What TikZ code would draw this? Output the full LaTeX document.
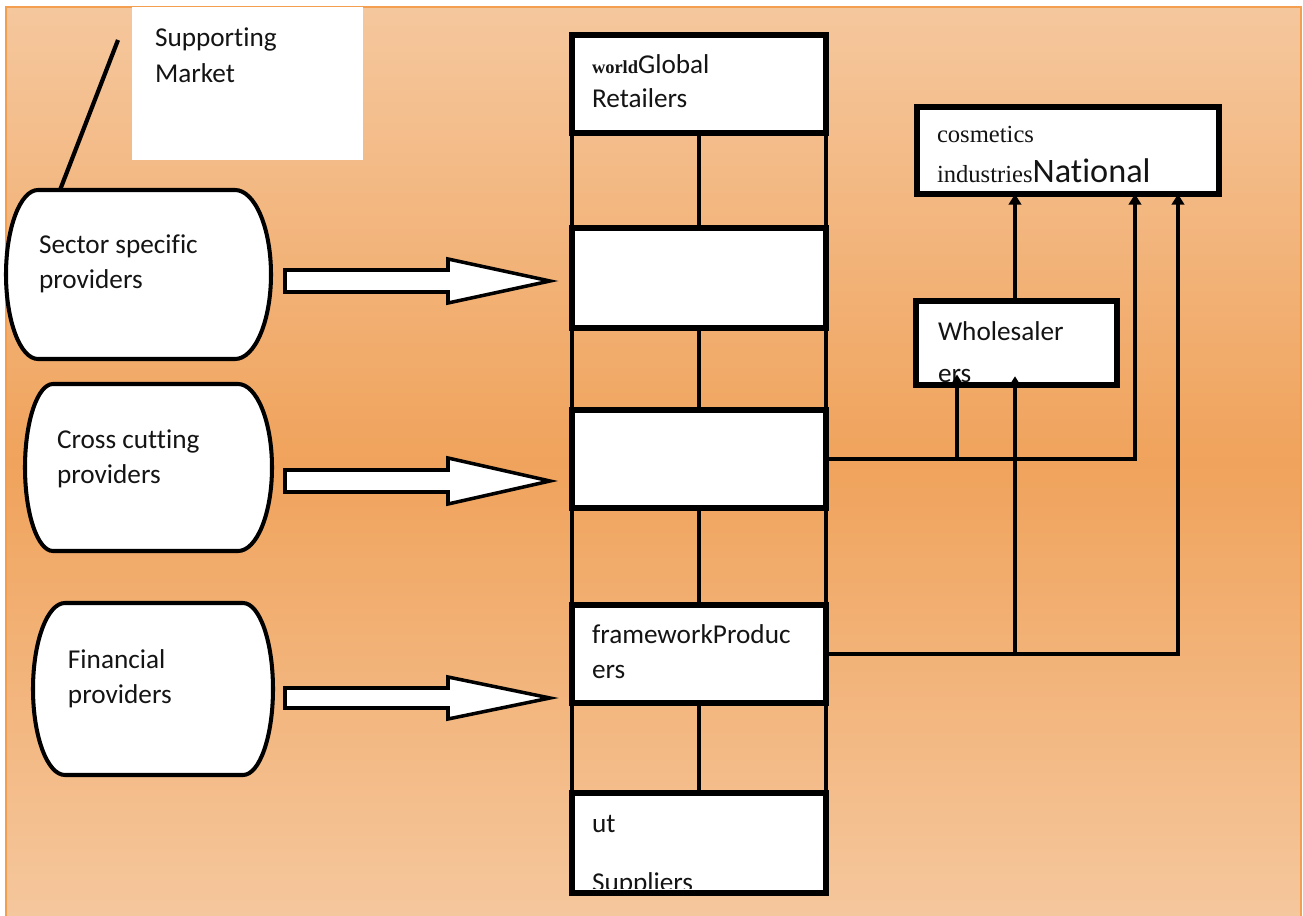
\documentclass[tikz,border=0pt]{standalone}
\usepackage{fontspec}
\setmainfont{Carlito}[Ligatures=NoCommon]
\newfontfamily\serifx{Liberation Serif}
\usetikzlibrary{arrows.meta}
\definecolor{bgtop}{RGB}{245,199,157}
\definecolor{bgmid}{RGB}{240,163,92}
\definecolor{bgedge}{RGB}{244,158,80}
\definecolor{ink}{RGB}{20,20,20}
% xl xr top bot aleft aright : side-bulging provider outline
\newcommand\provpath[6]{({#1+#5},#3) -- ({#2-#6},#3)
 .. controls ({#2-0.448*#6},#3) and (#2,{#3+0.224*(#4-#3)}) .. (#2,{0.5*(#3+#4)})
 .. controls (#2,{#4-0.224*(#4-#3)}) and ({#2-0.448*#6},#4) .. ({#2-#6},#4)
 -- ({#1+#5},#4)
 .. controls ({#1+0.448*#5},#4) and (#1,{#4-0.224*(#4-#3)}) .. (#1,{0.5*(#3+#4)})
 .. controls (#1,{#3+0.224*(#4-#3)}) and ({#1+0.448*#5},#3) .. cycle}
\begin{document}
\begin{tikzpicture}[x=0.02cm,y=-0.02cm,
  every node/.style={outer sep=0pt,inner sep=0pt},
  txt/.style={anchor=base west,font=\fontsize{15.5}{19}\selectfont,text=ink},
  colbox/.style={draw=black,fill=white,line width=3.6pt,minimum width=5.08cm},
  provline/.style={draw=black,fill=white,line width=2.3pt},
  conn/.style={line width=2.4pt,draw=black},
  arr/.style={conn,-{Triangle[length=6pt,width=7pt]}},
  blockarrow/.style={draw=black,fill=white,line width=2pt,line join=miter}]

\useasboundingbox (0,0) rectangle (1303,916);
\fill[white] (0,0) rectangle (1303,916);
\shade[top color=bgtop,bottom color=bgtop,middle color=bgmid] (6,7) rectangle (1301,918);
\draw[bgedge,line width=0.8pt] (6,918) -- (6,7) -- (1301,7) -- (1301,918);

% supporting market
\node[fill=white,minimum width=4.62cm,minimum height=3.06cm] (sm) at (247.5,83.5) {};
\node[txt] (smt1) at (155,47) {Supporting};
\node[txt] (smt2) at (155,82) {Market};

% providers
\draw[provline] \provpath{6}{271}{190}{359}{32}{36};
\draw[provline] \provpath{25}{272}{384}{551}{28}{34};
\draw[provline] \provpath{33}{273}{603}{775}{32}{30};
\node[minimum width=5.3cm,minimum height=3.38cm] (sec) at (138.5,274.5) {};
\node[minimum width=4.94cm,minimum height=3.34cm] (cro) at (148.5,467.5) {};
\node[minimum width=4.8cm,minimum height=3.44cm] (fin) at (153,689) {};
\node[txt] (sect1) at (39,253) {Sector specific};
\node[txt] (sect2) at (39,288) {providers};
\node[txt] (crot1) at (57,448) {Cross cutting};
\node[txt] (crot2) at (57,483) {providers};
\node[txt] (fint1) at (68,668) {Financial};
\node[txt] (fint2) at (68,703) {providers};

\coordinate (lt) at (118,40);
\draw[conn] (lt) -- ([xshift=-1.57cm]sec.north);

% block arrows
\draw[blockarrow] (285,270) -- (448,270) -- (448,259) -- (550,281) -- (448,303) -- (448,292) -- (285,292) -- cycle;
\draw[blockarrow] (285,470) -- (448,470) -- (448,458) -- (550,481) -- (448,504) -- (448,492) -- (285,492) -- cycle;
\draw[blockarrow] (285,688) -- (448,688) -- (448,677) -- (550,698) -- (448,719) -- (448,708) -- (285,708) -- cycle;

% central column
\node[colbox,minimum height=1.96cm] (b1) at (699,84) {};
\node[colbox,minimum height=2.00cm] (b2) at (699,278) {};
\node[colbox,minimum height=1.96cm] (b3) at (699,459) {};
\node[colbox,minimum height=1.96cm] (b4) at (699,654) {};
\node[colbox,minimum height=2.00cm] (b5) at (699,843) {};
\foreach \a/\b in {b1/b2,b2/b3,b3/b4,b4/b5}{
  \draw[conn] (\a.south west) -- (\b.north west);
  \draw[conn] (\a.south) -- (\b.north);
  \draw[conn] (\a.south east) -- (\b.north east);
}
\node[txt] (b1t1) at (592,73) {{\serifx\bfseries\fontsize{10.5}{12}\selectfont world}Global};
\node[txt] (b1t2) at (592,107) {Retailers};
\node[txt] (b4t1) at (592,643) {frameworkProduc};
\node[txt] (b4t2) at (592,678) {ers};
\node[txt] (b5t1) at (592,832) {ut};
\begin{scope}
  \clip (576,797) rectangle (822,888);
  \node[txt] (b5t2) at (592,891) {Suppliers};
\end{scope}

% right side
\node[draw=black,fill=white,line width=3.9pt,minimum width=6.04cm,minimum height=1.74cm] (nat) at (1068,150.5) {};
\node[txt,font=\serifx\fontsize{14}{17}\selectfont] (natt1) at (937,142) {cosmetics};
\node[txt] (natt2) at (937,182) {{\serifx\fontsize{14}{17}\selectfont industries}{\fontsize{19.5}{23}\selectfont National}};

\node[draw=black,fill=white,line width=3.6pt,minimum width=4.02cm,minimum height=1.68cm] (who) at (1016.5,343) {};
\node[txt] (whot1) at (938,340) {Wholesaler};
\begin{scope}
  \clip (920,304) rectangle (1113,381);
  \node[txt] (whot2) at (938,382) {ers};
\end{scope}

\coordinate (j1) at (957,459);
\coordinate (k1) at (1135,459);
\coordinate (j2) at (1015,656);
\coordinate (k2) at (1178,656);
\draw[arr] (b3.east) -| (nat.south -| k1);
\draw[arr,shorten >=-6pt] (j1) -- (who.south -| j1);
\draw[arr] (b4.east) -| (nat.south -| k2);
\draw[arr,shorten >=-5pt] (j2) -- (who.south -| j2);
\draw[arr] (who.north -| j2) -- (nat.south -| j2);
\end{tikzpicture}
\end{document}
